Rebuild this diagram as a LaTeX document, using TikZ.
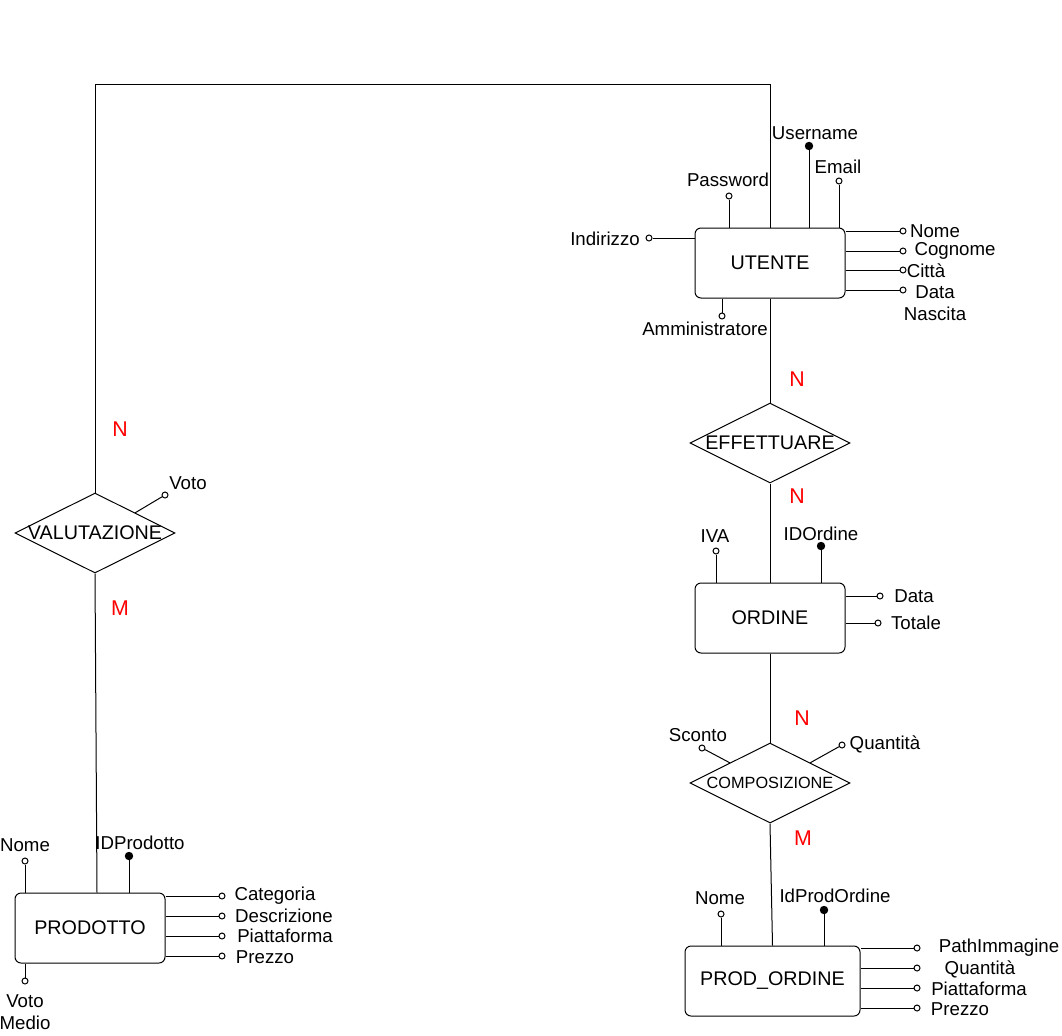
\documentclass[tikz,border=0pt]{standalone}
\usepackage{fontspec}
\setmainfont{Liberation Sans}
\usetikzlibrary{shapes.geometric,calc}

\begin{document}
\begin{tikzpicture}[x=0.75pt,y=-0.75pt,line width=0.75pt,
  ent/.style={draw, rounded corners=4.5pt, minimum width=112.5pt, minimum height=52.5pt,
    inner sep=0pt, font=\fontsize{14.8}{17}\selectfont},
  rel/.style={draw, diamond, minimum width=120pt, minimum height=60pt, inner sep=0pt},
  reltext/.style={font=\fontsize{14.8}{17}\selectfont, inner sep=0pt},
  opt/.style={circle, draw, fill=white, inner sep=0pt, minimum size=4.5pt},
  pk/.style={circle, draw, fill=black, inner sep=0pt, minimum size=5.5pt},
  lbl/.style={inner sep=0pt, align=center, font=\fontsize{14}{16}\selectfont},
  card/.style={text=red, inner sep=0pt, font=\fontsize{16}{19}\selectfont}]
\useasboundingbox (0,0) rectangle (1062,1035);

% ---------- entities ----------
\node[ent] (ut) at (770,263) {UTENTE};
\node[ent] (ord) at (770,618) {ORDINE};
\node[ent, minimum width=131.25pt] (po) at (772.5,981) {PROD\_ORDINE};
\node[ent] (prod) at (90,928) {PRODOTTO};

% ---------- relationships (names set as centre labels so the diamond keeps its size) ----------
\node[rel, label={[reltext]center:EFFETTUARE}] (eff) at (770,443) {};
\node[rel, label={[reltext, font=\fontsize{12.2}{14}\selectfont]center:COMPOSIZIONE}] (comp) at (770,783) {};
\node[rel, label={[reltext]center:VALUTAZIONE}] (val) at (95,533) {};

% ---------- relationship links ----------
\coordinate (tl) at (95,84);
\coordinate (tr) at (770,84);
\draw (val.north) -- (tl) -- (tr) -- (ut.north);
\draw (ut.south) -- (eff.north);
\draw (eff.south) -- (ord.north);
\draw (ord.south) -- (comp.north);
\draw (comp.south) -- (po.north);
\draw (val.south) -- ($(prod.north)+(7,0)$);

% ---------- cardinalities ----------
\node[card] (c1) at (797,379) {N};
\node[card] (c2) at (797,496) {N};
\node[card] (c3) at (802,718) {N};
\node[card] (c4) at (803,838) {M};
\node[card] (c5) at (120,429) {N};
\node[card] (c6) at (120,608) {M};

% ---------- UTENTE attributes ----------
\node[pk] (uUser) at (809,146) {};
\draw (uUser) -- (uUser |- ut.north);
\node[lbl] (uUserL) at (815,133) {Username};
\node[opt] (uMail) at (839,181) {};
\draw (uMail) -- (uMail |- ut.north);
\node[lbl] (uMailL) at (838,167) {Email};
\node[opt] (uPwd) at (729,196) {};
\draw (uPwd) -- (uPwd |- ut.north);
\node[lbl] (uPwdL) at (728,180) {Password};
\node[opt] (uInd) at (649,238) {};
\draw (uInd) -- (uInd -| ut.west);
\node[lbl] (uIndL) at (605,239) {Indirizzo};
\node[opt] (uNome) at (903,231) {};
\draw (uNome) -- (uNome -| ut.east);
\node[lbl] (uNomeL) at (935,231) {Nome};
\node[opt] (uCog) at (903,251) {};
\draw (uCog) -- (uCog -| ut.east);
\node[lbl] (uCogL) at (955,251) {Cognome};
\node[opt] (uCit) at (903,270) {};
\draw (uCit) -- (uCit -| ut.east);
\node[lbl] (uCitL) at (926,271) {Città};
\node[opt] (uDat) at (903,290) {};
\draw (uDat) -- (uDat -| ut.east);
\node[lbl] (uDatL) at (935,303) {Data\\Nascita};
\node[opt] (uAdm) at (722,316) {};
\draw (uAdm) -- (uAdm |- ut.south);
\node[lbl] (uAdmL) at (705,329) {Amministratore};

% ---------- ORDINE attributes ----------
\node[opt] (oIva) at (716,551) {};
\draw (oIva) -- (oIva |- ord.north);
\node[lbl] (oIvaL) at (715,536) {IVA};
\node[pk] (oId) at (821,546) {};
\draw (oId) -- (oId |- ord.north);
\node[lbl] (oIdL) at (821,534) {IDOrdine};
\node[opt] (oDat) at (880,596) {};
\draw (oDat) -- (oDat -| ord.east);
\node[lbl] (oDatL) at (914,596) {Data};
\node[opt] (oTot) at (878,623) {};
\draw (oTot) -- (oTot -| ord.east);
\node[lbl] (oTotL) at (916,623) {Totale};

% ---------- COMPOSIZIONE attributes ----------
\node[opt] (cSc) at (702,748) {};
\draw (cSc) -- (comp.north west);
\node[lbl] (cScL) at (698,735) {Sconto};
\node[opt] (cQt) at (842,745) {};
\draw (cQt) -- (comp.north east);
\node[lbl] (cQtL) at (885,744) {Quantità};

% ---------- PROD_ORDINE attributes ----------
\node[opt] (pNome) at (721,914) {};
\draw (pNome) -- (pNome |- po.north);
\node[lbl] (pNomeL) at (720,898) {Nome};
\node[pk] (pId) at (824,910) {};
\draw (pId) -- (pId |- po.north);
\node[lbl] (pIdL) at (835,896) {IdProdOrdine};
\node[opt] (pPath) at (917,948) {};
\draw (pPath) -- (pPath -| po.east);
\node[lbl] (pPathL) at (999,948) {PathImmagine};
\node[opt] (pQt) at (917,968) {};
\draw (pQt) -- (pQt -| po.east);
\node[lbl] (pQtL) at (980,969) {Quantità};
\node[opt] (pPia) at (917,988) {};
\draw (pPia) -- (pPia -| po.east);
\node[lbl] (pPiaL) at (979,989) {Piattaforma};
\node[opt] (pPre) at (917,1008) {};
\draw (pPre) -- (pPre -| po.east);
\node[lbl] (pPreL) at (960,1009) {Prezzo};

% ---------- VALUTAZIONE attribute ----------
\node[opt] (vVoto) at (165,495) {};
\draw (vVoto) -- (val.north east);
\node[lbl] (vVotoL) at (188,483) {Voto};

% ---------- PRODOTTO attributes ----------
\node[opt] (dNome) at (25,861) {};
\draw (dNome) -- (dNome |- prod.north);
\node[lbl] (dNomeL) at (25,845) {Nome};
\node[pk] (dId) at (129,856) {};
\draw (dId) -- (dId |- prod.north);
\node[lbl] (dIdL) at (140,843) {IDProdotto};
\node[opt] (dCat) at (222,896) {};
\draw (dCat) -- (dCat -| prod.east);
\node[lbl] (dCatL) at (275,896) {Categoria};
\node[opt] (dDes) at (222,916) {};
\draw (dDes) -- (dDes -| prod.east);
\node[lbl] (dDesL) at (284,916) {Descrizione};
\node[opt] (dPia) at (222,936) {};
\draw (dPia) -- (dPia -| prod.east);
\node[lbl] (dPiaL) at (285,936) {Piattaforma};
\node[opt] (dPre) at (222,956) {};
\draw (dPre) -- (dPre -| prod.east);
\node[lbl] (dPreL) at (265,957) {Prezzo};
\node[opt] (dVm) at (25,981) {};
\draw (dVm) -- (dVm |- prod.south);
\node[lbl] (dVmL) at (25,1012) {Voto\\Medio};
\end{tikzpicture}
\end{document}
